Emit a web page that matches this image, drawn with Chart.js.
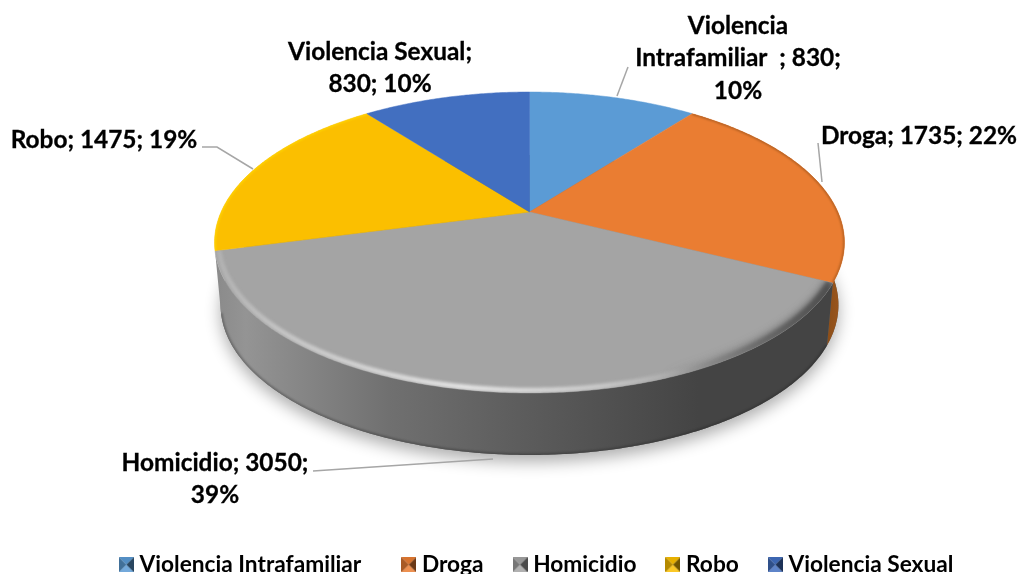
<!DOCTYPE html>
<html>
<head>
<meta charset="utf-8">
<title>Delitos</title>
<script src="https://cdn.jsdelivr.net/npm/chart.js@4"></script>
<style>
    html, body { margin: 0; padding: 0; background: #fff; }
    #wrap { width: 1020px; height: 574px; }
</style>
</head>
<body>
<div id="wrap"><canvas id="pieChart"></canvas></div>
<script>
// categoria "Violencia Intrafamiliar" keeps its trailing spaces, the label shows them
const categories = ['Violencia Intrafamiliar  ', 'Droga', 'Homicidio', 'Robo', 'Violencia Sexual'];
const values = [830, 1735, 3050, 1475, 830];
const colors = ['#5B9BD5', '#EA7D32', '#A4A4A4', '#FBBF00', '#426FC0'];

const total = values.reduce((a, b) => a + b, 0);
const LEGEND_FONT_SIZE = 22.7;
const LABEL_FONT_SIZE = 24.4;

// where the data labels go, text lines are built from the arrays
const labelLayout = [
    { x: 738, y: 26, lines: (c, v, p) => ['Violencia', `Intrafamiliar  ; ${v};`, `${p}%`] },
    { x: 919, y: 136, lines: (c, v, p) => [`${c}; ${v}; ${p}%`] },
    { x: 215, y: 463, lines: (c, v, p) => [`${c}; ${v};`, `${p}%`] },
    { x: 104, y: 140, lines: (c, v, p) => [`${c}; ${v}; ${p}%`] },
    { x: 380, y: 52, lines: (c, v, p) => [`${c};`, `${v}; ${p}%`] }
];
const leaders = [
    [[628, 67], [617, 96]],
    [[818, 143], [822, 182]],
    [[313, 471], [493, 459]],
    [[202, 147], [217, 147], [253, 169]],
    []
];

// perspective of the disc: top face and bottom face
const topFace = { cx: 529.5, cy: 212, rx: 308.4, ry: 144.3, k: 0.2027 };
const bottomFace = { cx: 529.5, cy: 274.6, rx: 302.5, ry: 143.8, k: 0.2027 };

function project(face, angle, r = 1) {
    const u = r * Math.cos(angle);
    const v = r * Math.sin(angle);
    const w = 1 - face.k * v;
    return [face.cx + face.rx * u / w, face.cy + face.ry * v / w];
}

function traceRim(ctx, face, start, end, r = 1) {
    const steps = Math.max(2, Math.ceil(Math.abs(end - start) / 0.01));
    for (let i = 0; i <= steps; i++) {
        const p = project(face, start + (end - start) * i / steps, r);
        ctx.lineTo(p[0], p[1]);
    }
}

function slicePath(ctx, arc) {
    ctx.beginPath();
    ctx.moveTo(topFace.cx, topFace.cy);
    traceRim(ctx, topFace, arc.startAngle, arc.endAngle);
    ctx.closePath();
}

function wallPath(ctx, start, end) {
    ctx.beginPath();
    traceRim(ctx, topFace, start, end);
    traceRim(ctx, bottomFace, end, start);
    ctx.closePath();
}

function hGradient(ctx, x0, x1, stops) {
    const g = ctx.createLinearGradient(x0, 0, x1, 0);
    stops.forEach(s => g.addColorStop(s[0], s[1]));
    return g;
}

function strokeBevel(ctx, arc, style, width, r, blur) {
    ctx.save();
    slicePath(ctx, arc);
    ctx.clip();
    ctx.filter = `blur(${blur}px)`;
    ctx.beginPath();
    traceRim(ctx, topFace, arc.startAngle, arc.endAngle, r);
    ctx.strokeStyle = style;
    ctx.lineWidth = width;
    ctx.stroke();
    ctx.restore();
}

// legend icon: small square with four bevel triangles, dark in the middle
function legendIcon(color) {
    const s = 15;
    const c = document.createElement('canvas');
    c.width = s;
    c.height = s;
    const g = c.getContext('2d');
    const tri = (x1, y1, x2, y2, shade, alpha) => {
        g.beginPath();
        g.moveTo(x1, y1);
        g.lineTo(x2, y2);
        g.lineTo(s / 2, s / 2);
        g.closePath();
        g.fillStyle = color;
        g.fill();
        g.globalAlpha = alpha;
        g.fillStyle = shade;
        g.fill();
        g.globalAlpha = 1;
    };
    tri(0, 0, s, 0, '#000', 0.08);
    tri(0, s, s, s, '#fff', 0.15);
    tri(0, 0, 0, s, '#000', 0.28);
    tri(s, 0, s, s, '#000', 0.55);
    return c;
}

const disc3d = {
    id: 'disc3d',
    afterLayout(chart) {
        // legend row sits on the bottom edge, padding only spaces the items
        const legend = chart.legend;
        legend.top = 574 - legend.height + 12;
        legend.left += 29;
        legend.right += 29;
    },
    beforeDatasetsDraw(chart) {
        const ctx = chart.ctx;
        const arcs = chart.getDatasetMeta(0).data;

        // soft shadow under the disc
        ctx.save();
        ctx.shadowColor = 'rgba(0,0,0,0.32)';
        ctx.shadowBlur = 16;
        ctx.shadowOffsetY = 7;
        ctx.fillStyle = '#666';
        ctx.beginPath();
        traceRim(ctx, bottomFace, 0, Math.PI * 2);
        ctx.closePath();
        ctx.fill();
        ctx.restore();

        // side walls of the slices that face the viewer
        ctx.fillStyle = hGradient(ctx, 780, 845, [[0, '#7a4215'], [0.7, '#8a4d18'], [1, '#a0591f']]);
        wallPath(ctx, arcs[1].startAngle, arcs[1].endAngle);
        ctx.fill();
        ctx.fillStyle = hGradient(ctx, 215, 835, [
            [0, '#8a8a8a'], [0.05, '#949494'], [0.28, '#707070'],
            [0.5, '#5c5c5c'], [0.78, '#444444'], [1, '#444444']
        ]);
        wallPath(ctx, arcs[2].startAngle, arcs[2].endAngle);
        ctx.fill();

        // darker line on the lower edge of the wall
        ctx.save();
        wallPath(ctx, arcs[2].startAngle, arcs[2].endAngle);
        ctx.clip();
        ctx.filter = 'blur(1px)';
        ctx.beginPath();
        traceRim(ctx, bottomFace, arcs[2].startAngle, arcs[2].endAngle);
        ctx.strokeStyle = 'rgba(30,30,30,0.35)';
        ctx.lineWidth = 3;
        ctx.stroke();
        ctx.restore();

        // top face
        arcs.forEach((arc, i) => {
            slicePath(ctx, arc);
            ctx.fillStyle = colors[i];
            ctx.fill();
            ctx.strokeStyle = colors[i];
            ctx.lineWidth = 0.5;
            ctx.stroke();
        });

        // bevel along the rim
        strokeBevel(ctx, arcs[1], 'rgba(138,74,22,0.7)', 2, 1, 1);
        strokeBevel(ctx, arcs[3], '#FFD500', 2.5, 1, 0.8);
        const rimLight = hGradient(ctx, 215, 840, [
            [0, '#b0b0b0'], [0.1, '#c4c4c4'], [0.4, '#e4e4e4'], [0.62, '#c8c8c8'], [0.8, '#9a9a9a'], [1, '#707070']
        ]);
        const rimDark = hGradient(ctx, 215, 840, [
            [0, 'rgba(68,68,68,0)'], [0.72, 'rgba(68,68,68,0)'], [0.98, 'rgba(68,68,68,1)']
        ]);
        strokeBevel(ctx, arcs[2], rimLight, 5, 0.988, 1.6);
        strokeBevel(ctx, arcs[2], rimDark, 12, 1, 4);

        // the library arcs are replaced by the projected disc
        return false;
    },
    afterDraw(chart) {
        const ctx = chart.ctx;
        ctx.save();
        ctx.strokeStyle = '#A6A6A6';
        ctx.lineWidth = 1.5;
        leaders.forEach(pts => {
            if (!pts.length) return;
            ctx.beginPath();
            pts.forEach((p, i) => (i ? ctx.lineTo(p[0], p[1]) : ctx.moveTo(p[0], p[1])));
            ctx.stroke();
        });

        ctx.font = `bold ${LABEL_FONT_SIZE}px Lato`;
        ctx.fillStyle = '#000';
        ctx.strokeStyle = '#000';
        ctx.lineWidth = 0.3;
        ctx.textAlign = 'center';
        ctx.textBaseline = 'middle';
        labelLayout.forEach((l, i) => {
            const pct = Math.round(values[i] / total * 100);
            l.lines(categories[i], values[i], pct).forEach((t, n) => {
                ctx.fillText(t, l.x, l.y + n * 32.5);
                ctx.strokeText(t, l.x, l.y + n * 32.5);
            });
        });
        ctx.restore();
    }
};

document.addEventListener('DOMContentLoaded', function () {
    const ctx = document.getElementById('pieChart').getContext('2d');

    new Chart(ctx, {
        type: 'pie',
        data: {
            labels: categories,
            datasets: [{
                data: values,
                backgroundColor: colors,
                borderWidth: 0
            }]
        },
        plugins: [disc3d],
        options: {
            responsive: true,
            maintainAspectRatio: false,
            animation: false,
            plugins: {
                tooltip: { enabled: false },
                legend: {
                    position: 'bottom',
                    labels: {
                        usePointStyle: true,
                        pointStyleWidth: 3.5,
                        padding: 34.75,
                        color: '#000',
                        font: { family: 'Lato', size: LEGEND_FONT_SIZE, weight: 'bold' },
                        generateLabels: function () {
                            return categories.map((c, i) => ({
                                text: c,
                                pointStyle: legendIcon(colors[i]),
                                lineWidth: 0,
                                index: i
                            }));
                        }
                    }
                }
            }
        }
    });
});
</script>
</body>
</html>
